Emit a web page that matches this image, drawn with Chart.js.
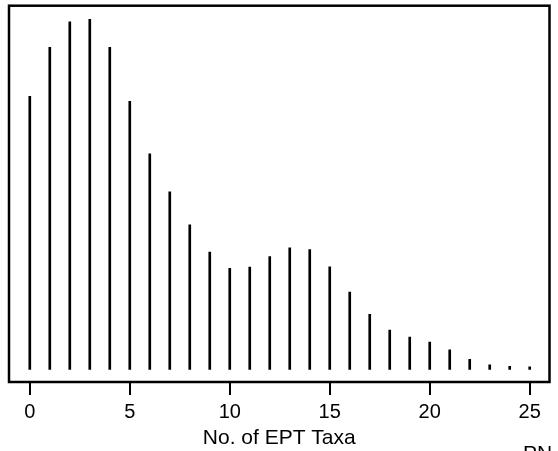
<!DOCTYPE html>
<html>
<head>
<meta charset="utf-8">
<script src="https://cdn.jsdelivr.net/npm/chart.js@4.4.1/dist/chart.umd.min.js"></script>
<style>
  html, body { margin: 0; padding: 0; background: #fff; }
  canvas { display: block; }
</style>
</head>
<body>
<canvas id="eptChart" width="558" height="451"></canvas>
<script>
const taxaCounts = [0, 1, 2, 3, 4, 5, 6, 7, 8, 9, 10, 11, 12, 13, 14, 15, 16, 17, 18, 19, 20, 21, 22, 23, 24, 25];
const frequency = [78, 92, 99.3, 100, 92, 76.6, 61.6, 50.7, 41.3, 33.5, 28.9, 29.2, 32.2, 34.7, 34.2,
  29.3, 22.1, 15.7, 11.2, 9.2, 7.8, 5.6, 2.9, 1.3, 0.9, 0.7];
const xTicks = [0, 5, 10, 15, 20, 25];
const xTitle = 'No. of EPT Taxa';
const cornerNote = 'PN';

const FONT = '"Liberation Sans", Arial, Helvetica, sans-serif';

// box round the plot region, plus the clipped note in the corner
const frameBox = {
  id: 'frameBox',
  afterDraw: (chart) => {
    const { ctx, chartArea } = chart;
    ctx.save();
    ctx.strokeStyle = '#000';
    ctx.lineWidth = 2.5;
    ctx.strokeRect(chartArea.left, chartArea.top, chartArea.right - chartArea.left, chartArea.bottom - chartArea.top);
    ctx.fillStyle = '#000';
    ctx.font = '21px ' + FONT;
    ctx.textBaseline = 'alphabetic';
    ctx.fillText(cornerNote, 523, 460);
    ctx.restore();
  }
};

const ctx = document.getElementById('eptChart').getContext('2d');

new Chart(ctx, {
  type: 'bar',
  data: {
    datasets: [{
      data: taxaCounts.map((t, i) => ({ x: t, y: frequency[i] })),
      backgroundColor: '#000',
      borderWidth: 0,
      barThickness: 2
    }]
  },
  options: {
    responsive: false,
    animation: false,
    layout: { padding: { left: 9, right: 8.5, top: 5.7, bottom: 0 } },
    plugins: {
      legend: { display: false },
      tooltip: { enabled: false }
    },
    scales: {
      x: {
        type: 'linear',
        min: -1.04,
        max: 25.99,
        offset: false,
        afterBuildTicks: (scale) => {
          scale.ticks = xTicks.map(v => ({ value: v }));
        },
        afterFit: (scale) => { scale.height = 69; },
        border: { display: false },
        grid: {
          offset: false,
          drawOnChartArea: false,
          drawTicks: true,
          tickLength: 13,
          color: '#000',
          lineWidth: 2
        },
        ticks: {
          color: '#000',
          padding: 5,
          maxRotation: 0,
          autoSkip: false,
          font: { family: FONT, size: 20 }
        },
        title: {
          display: true,
          text: xTitle,
          color: '#000',
          padding: { top: 0, bottom: 0 },
          font: { family: FONT, size: 21 }
        }
      },
      y: {
        display: false,
        min: -3.6,
        max: 103.9
      }
    }
  },
  plugins: [frameBox]
});
</script>
</body>
</html>
